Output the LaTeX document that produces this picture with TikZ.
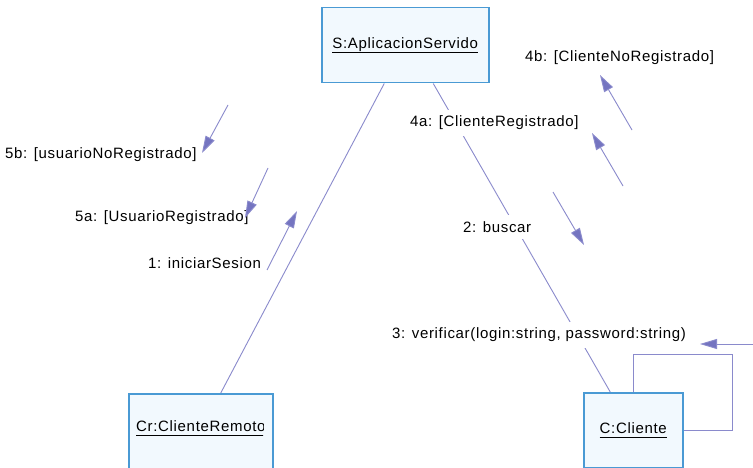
\documentclass[tikz,border=0pt]{standalone}
\usepackage{fontspec}
\setmainfont{Liberation Sans}[LetterSpace=4.5]
\usetikzlibrary{arrows.meta}

\definecolor{boxedge}{HTML}{4A9AD4}
\definecolor{boxfill}{HTML}{F2F9FE}
\definecolor{linkcol}{HTML}{8A8ACC}
\definecolor{tipcol}{HTML}{7474C0}

% object name with an underline at a fixed distance below the baseline
\newcommand{\objname}[1]{\leavevmode\vtop{\hbox{\raisebox{0pt}[\height][0pt]{#1}}\kern3.5pt\hrule height 1.1pt}}

\begin{document}
\begin{tikzpicture}[x=1pt,y=-1pt,
  font=\fontsize{15}{18}\selectfont,
  obj/.style={draw=boxedge, line width=1.5pt, fill=boxfill, inner sep=0pt, anchor=north west},
  link/.style={draw=linkcol, line width=0.9pt},
  msg/.style={draw=linkcol, line width=0.9pt, -{Triangle[length=17pt,width=10pt,fill=tipcol]}},
  lbl/.style={fill=white, inner xsep=2pt, inner ysep=6pt, anchor=west, text=black}]

\useasboundingbox (0,0) rectangle (753,468);
\fill[white] (0,0) rectangle (753,468);

% objects
\node[obj, minimum width=167pt, minimum height=75pt] (S) at (321,7) {\objname{S:AplicacionServido}};
\node[obj, minimum width=144pt, minimum height=76pt] (Cr) at (128,393) {};
\begin{scope}
  \clip (Cr.north west) rectangle ([xshift=-10.5pt]Cr.south east);
  \node[anchor=west, inner sep=0pt] (crname) at (136,428) {\objname{Cr:ClienteRemoto}};
\end{scope}
\node[obj, minimum width=99pt, minimum height=75pt] (C) at (583,392) {\objname{C:Cliente}};

% links
\draw[link] ([xshift=-21pt]S.south) -- ([xshift=20pt]Cr.north);
\draw[link] ([xshift=28pt]S.south) -- ([xshift=-23pt]C.north);
\draw[link] (C.north) -- ++(0,-38) -- ++(99,0) |- (C.east);

% message labels
\node[lbl] (l4b) at (523,58) {4b: [ClienteNoRegistrado]};
\node[lbl] (l5b) at (3,155) {5b: [usuarioNoRegistrado]};
\node[lbl] (l5a) at (73,218) {5a: [UsuarioRegistrado]};
\node[lbl] (l1) at (146,263) {1: iniciarSesion};
\node[lbl] (l4a) at (408,123) {4a: [ClienteRegistrado]};
\node[lbl] (l2) at (461,227) {2: buscar};
\node[lbl] (l3) at (390,335) {3: verificar(login:string, password:string)};

% message arrows
\coordinate (m1a) at (267,270);  \coordinate (m1b) at (297,211);
\coordinate (m5aa) at (268,168); \coordinate (m5ab) at (245,218);
\coordinate (m5ba) at (228,105); \coordinate (m5bb) at (202,153);
\coordinate (m4ba) at (632,130); \coordinate (m4bb) at (600,75);
\coordinate (m4aa) at (623,186); \coordinate (m4ab) at (592,133);
\coordinate (m2a) at (553,192);  \coordinate (m2b) at (584,245);
\coordinate (m3a) at (753,344);  \coordinate (m3b) at (700,344);

\draw[msg] (m1a) -- (m1b);
\draw[msg] (m5aa) -- (m5ab);
\draw[msg] (m5ba) -- (m5bb);
\draw[msg] (m4ba) -- (m4bb);
\draw[msg] (m4aa) -- (m4ab);
\draw[msg] (m2a) -- (m2b);
\draw[msg] (m3a) -- (m3b);

\end{tikzpicture}
\end{document}
